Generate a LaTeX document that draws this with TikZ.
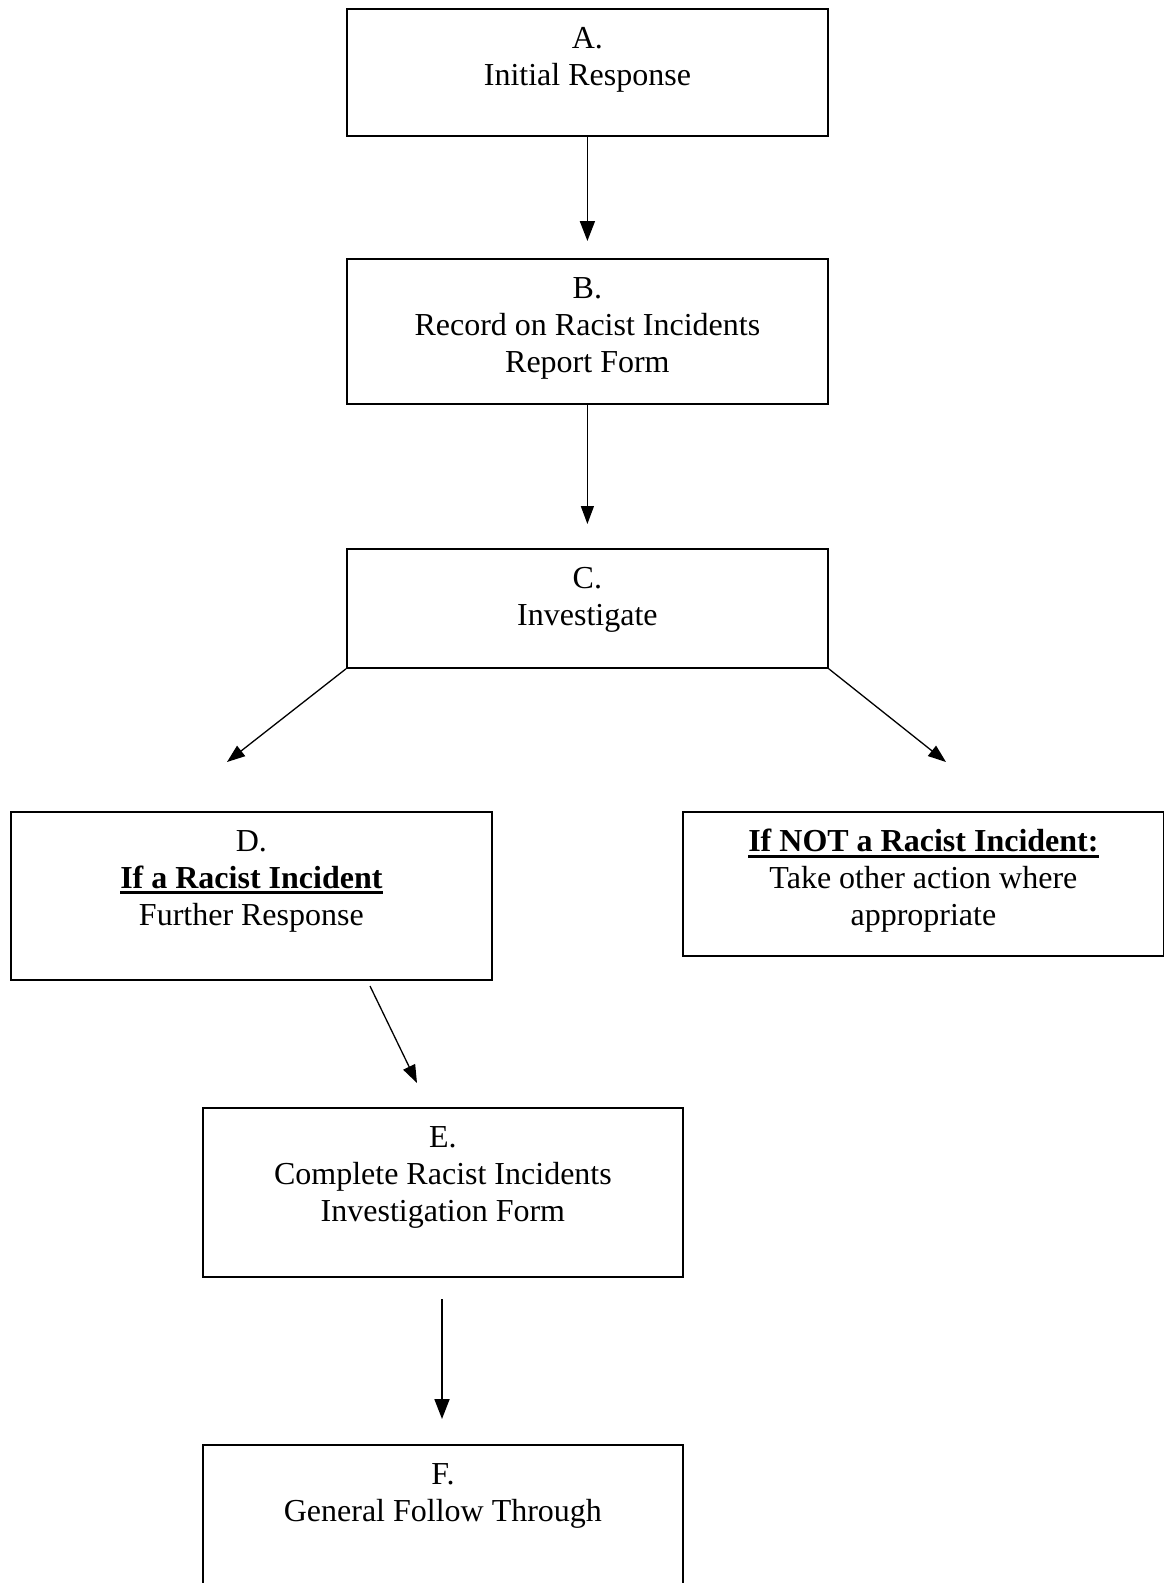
\documentclass[tikz,border=0pt]{standalone}
\usepackage{fontspec}
\setmainfont{Liberation Serif}
\usetikzlibrary{arrows.meta}
\newcommand\ulbf[1]{\leavevmode\vtop{\hbox{\bfseries #1}\kern3pt\hrule height 2.5pt}}
\begin{document}
\begin{tikzpicture}[x=1pt,y=-1pt,
  box/.style={draw,line width=1.8pt,rectangle,inner sep=0pt,anchor=north west},
  txt/.style={anchor=north,align=center,inner sep=0pt,font=\fontsize{32}{37}\selectfont},
  arr/.style={line width=1.8pt,-{Triangle[length=20pt,width=15pt]}},
  darr/.style={line width=1.3pt,-{Triangle[length=18pt,width=13pt]}}]
\fill[white] (0,0) rectangle (1164,1583);
\useasboundingbox (0,0) rectangle (1164,1583);

\node[box,minimum width=481pt,minimum height=127pt] (A) at (346,8) {};
\node[box,minimum width=481pt,minimum height=145pt] (B) at (346,258) {};
\node[box,minimum width=481pt,minimum height=119pt] (C) at (346,548) {};
\node[box,minimum width=481pt,minimum height=168pt] (D) at (10,811) {};
\node[box,minimum width=481pt,minimum height=144pt] (N) at (682,811) {};
\node[box,minimum width=480pt,minimum height=169pt] (E) at (202,1107) {};
\node[box,minimum width=480pt,minimum height=200pt] (F) at (202,1444) {};

\node[txt] (At) at ([yshift=-19pt]A.north) {A.\\Initial Response};
\node[txt] (Bt) at ([yshift=-19pt]B.north) {B.\\Record on Racist Incidents\\Report Form};
\node[txt] (Ct) at ([yshift=-19pt]C.north) {C.\\Investigate};
\node[txt] (Dt) at ([yshift=-19pt]D.north) {D.\\\ulbf{If a Racist Incident}\\Further Response};
\node[txt] (Nt) at ([yshift=-18pt]N.north) {\ulbf{If NOT a Racist Incident:}\\Take other action where\\appropriate};
\node[txt] (Et) at ([yshift=-19pt]E.north) {E.\\Complete Racist Incidents\\Investigation Form};
\node[txt] (Ft) at ([yshift=-19pt]F.north) {F.\\General Follow Through};

\coordinate (tD) at (227,762);
\coordinate (tN) at (946,762);
\coordinate (sE) at (370,986);
\coordinate (tE) at (417,1083);
\coordinate (sF) at (442,1299);
\coordinate (tF) at (442,1419);

\draw[arr] (A.south) -- ([yshift=17pt]B.north);
\draw[darr] (B.south) -- ([yshift=24pt]C.north);
\draw[darr] (C.south west) -- (tD);
\draw[darr] (C.south east) -- (tN);
\draw[darr] (sE) -- (tE);
\draw[arr] (sF) -- (tF);
\end{tikzpicture}
\end{document}
